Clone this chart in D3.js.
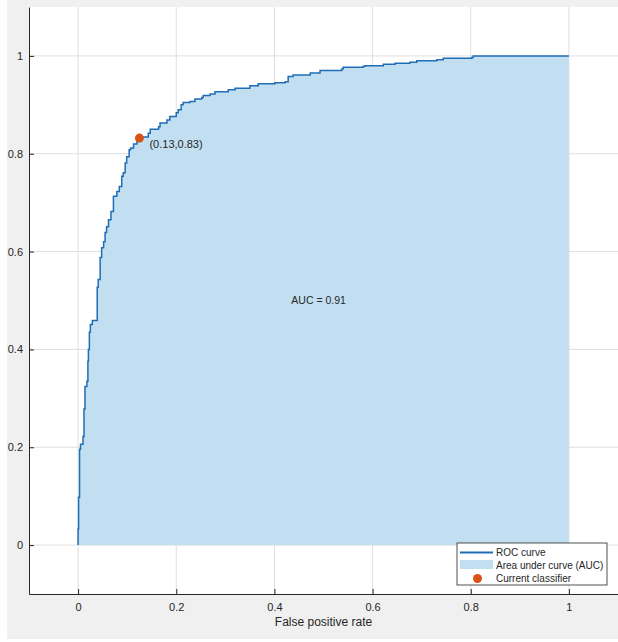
<!DOCTYPE html>
<html>
<head>
<meta charset="utf-8">
<script src="https://cdn.jsdelivr.net/npm/d3@7"></script>
<style>
  body { margin: 0; background: #fff; }
  text { font-family: "Liberation Sans", Arial, sans-serif; fill: #262626; }
</style>
</head>
<body>
<script>
// ROC curve vertices (x of each vertical rise, top of that rise)
const fpr = [0, 0, 0.001, 0.003, 0.005, 0.010, 0.012, 0.014, 0.018, 0.020, 0.021, 0.023, 0.025, 0.029,
  0.039, 0.041, 0.045, 0.048, 0.052, 0.055, 0.058, 0.062, 0.067, 0.072, 0.079, 0.084, 0.089, 0.092,
  0.096, 0.099, 0.104, 0.107, 0.113, 0.120, 0.125, 0.143, 0.147, 0.164, 0.167, 0.181, 0.187, 0.200,
  0.204, 0.210, 0.214, 0.228, 0.238, 0.252, 0.255, 0.269, 0.279, 0.306, 0.320, 0.350, 0.367, 0.401,
  0.422, 0.428, 0.438, 0.473, 0.493, 0.537, 0.540, 0.581, 0.585, 0.622, 0.646, 0.676, 0.690, 0.731,
  0.744, 0.802, 0.805, 1];
const tpr = [0, 0.033, 0.098, 0.196, 0.206, 0.222, 0.278, 0.324, 0.335, 0.376, 0.400, 0.435, 0.451, 0.459,
  0.527, 0.543, 0.588, 0.608, 0.620, 0.639, 0.651, 0.665, 0.682, 0.713, 0.723, 0.733, 0.754, 0.761,
  0.781, 0.794, 0.808, 0.812, 0.820, 0.825, 0.834, 0.842, 0.850, 0.855, 0.863, 0.869, 0.876, 0.884,
  0.890, 0.900, 0.905, 0.907, 0.912, 0.915, 0.919, 0.922, 0.927, 0.931, 0.934, 0.939, 0.943, 0.945,
  0.947, 0.958, 0.961, 0.965, 0.970, 0.973, 0.977, 0.979, 0.980, 0.983, 0.985, 0.987, 0.990, 0.992,
  0.995, 0.997, 1.000, 1];
const classifier = [0.125, 0.832];
const classifierLabel = "(0.13,0.83)";
const aucLabel = "AUC = 0.91";
const tickValues = [0, 0.2, 0.4, 0.6, 0.8, 1];
const legendLabels = ["ROC curve", "Area under curve (AUC)", "Current classifier"];

const W = 618, H = 642;
const lineColor = "#1f6db5", fillColor = "#c2dff2", dotColor = "#d95319";

const svg = d3.select("body").append("svg")
  .attr("width", W).attr("height", H);

// figure background
svg.append("rect").attr("x", 7).attr("y", 0).attr("width", W - 7).attr("height", 639)
  .attr("fill", "#f0f0f0");

const x = d3.scaleLinear().domain([-0.1, 1.1]).range([29, 618]);
const y = d3.scaleLinear().domain([-0.1, 1.1]).range([594, 7]);

// axes area
svg.append("rect").attr("x", 29).attr("y", 7).attr("width", 618 - 29).attr("height", 594 - 7)
  .attr("fill", "#fff");

// grid
const grid = svg.append("g").attr("stroke", "#dfdfdf").attr("stroke-width", 1);
tickValues.forEach(v => {
  grid.append("line").attr("x1", x(v)).attr("x2", x(v)).attr("y1", 7).attr("y2", 594);
  grid.append("line").attr("y1", y(v)).attr("y2", y(v)).attr("x1", 29).attr("x2", 618);
});

const pts = fpr.map((d, i) => [d, tpr[i]]);

svg.append("path")
  .datum(pts)
  .attr("fill", fillColor)
  .attr("d", d3.area().x(d => x(d[0])).y0(y(0)).y1(d => y(d[1])).curve(d3.curveStepAfter));

svg.append("path")
  .datum(pts)
  .attr("fill", "none")
  .attr("stroke", lineColor)
  .attr("stroke-width", 1.5)
  .attr("d", d3.line().x(d => x(d[0])).y(d => y(d[1])).curve(d3.curveStepAfter));

// current classifier
svg.append("circle")
  .attr("cx", x(classifier[0])).attr("cy", y(classifier[1])).attr("r", 4.5)
  .attr("fill", dotColor);
svg.append("text")
  .attr("x", x(classifier[0]) + 10).attr("y", y(classifier[1]) + 6)
  .attr("dy", "0.35em").attr("font-size", 11)
  .text(classifierLabel);

svg.append("text")
  .attr("x", x(0.49)).attr("y", y(0.5))
  .attr("dy", "0.35em").attr("text-anchor", "middle").attr("font-size", 10.5)
  .text(aucLabel);

// axes
const fmt = d3.format("~g");
const xAxis = svg.append("g").attr("transform", `translate(0,${y(-0.1)})`)
  .call(d3.axisBottom(x).tickValues(tickValues).tickFormat(fmt).tickSizeInner(-5).tickSizeOuter(0).tickPadding(9));
const yAxis = svg.append("g").attr("transform", `translate(${x(-0.1)},0)`)
  .call(d3.axisLeft(y).tickValues(tickValues).tickFormat(fmt).tickSizeInner(-5).tickSizeOuter(0).tickPadding(6));
[xAxis, yAxis].forEach(g => {
  g.select(".domain").attr("stroke", "#262626");
  g.selectAll(".tick line").attr("stroke", "#262626");
  g.selectAll(".tick text").attr("font-size", 11).attr("font-family", "Liberation Sans, Arial, sans-serif").attr("fill", "#262626");
});

svg.append("text")
  .attr("x", x(0.5)).attr("y", 626)
  .attr("text-anchor", "middle").attr("font-size", 12)
  .text("False positive rate");

// legend
const lg = svg.append("g").attr("transform", "translate(457,543)");
lg.append("rect").attr("width", 150).attr("height", 42)
  .attr("fill", "#fff").attr("stroke", "#262626").attr("stroke-width", 0.8);
lg.append("line").attr("x1", 3).attr("x2", 36).attr("y1", 9.5).attr("y2", 9.5)
  .attr("stroke", lineColor).attr("stroke-width", 2);
lg.append("rect").attr("x", 3).attr("y", 17).attr("width", 33).attr("height", 9).attr("fill", fillColor);
lg.append("circle").attr("cx", 20.5).attr("cy", 35.5).attr("r", 4.5).attr("fill", dotColor);
lg.selectAll("text.lbl").data(legendLabels).join("text")
  .attr("class", "lbl")
  .attr("x", 39).attr("y", (d, i) => 9.5 + i * 13)
  .attr("dy", "0.35em").attr("font-size", 10)
  .text(d => d);
</script>
</body>
</html>
